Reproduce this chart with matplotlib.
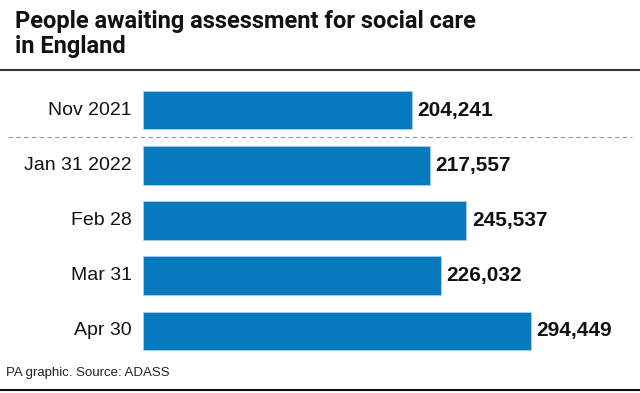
import matplotlib
matplotlib.use("Agg")
import matplotlib.pyplot as plt
from matplotlib.lines import Line2D

categories = ["Nov 2021", "Jan 31 2022", "Feb 28", "Mar 31", "Apr 30"]
values = [204241, 217557, 245537, 226032, 294449]
title = "People awaiting assessment for social care\nin England"
source = "PA graphic. Source: ADASS"

W, H = 640, 393
fig = plt.figure(figsize=(W / 100, H / 100), dpi=100)
fig.patch.set_facecolor("white")
plt.rcParams['font.family'] = ['Liberation Sans', 'DejaVu Sans']

bar_color = "#0779BE"

ax = fig.add_axes([143 / W, 1 - 358.6 / H, (W - 143) / W, (358.6 - 82.4) / H])
y = list(range(len(categories)))
ax.barh(y, values, height=0.7, color=bar_color, edgecolor="#9fd3f2", linewidth=0.6)
ax.set_xlim(0, (W - 143) / 0.001317)
ax.set_ylim(len(categories) - 0.5, -0.5)
ax.axis("off")

for yi, (c, v) in enumerate(zip(categories, values)):
    ax.annotate(c, xy=(0, yi), xytext=(-8, 0), textcoords="offset points",
                ha="right", va="center", fontsize=14, color="#111111")
    ax.annotate(f"{v:,}", xy=(v, yi), xytext=(4, 0), textcoords="offset points",
                ha="left", va="center", fontsize=15, fontweight="bold", color="#111111")

# title
fig.text(15 / W, 1 - 10 / H, title, ha="left", va="top", fontsize=17,
         fontweight="bold", color="#111111", linespacing=1.12,
         family=["Roboto", "Liberation Sans", "DejaVu Sans"])
# rule under title
fig.add_artist(Line2D([0, 1], [1 - 70 / H, 1 - 70 / H], color="#333333", linewidth=1.5))
# dashed separator
fig.add_artist(Line2D([8 / W, 632 / W], [1 - 137 / H, 1 - 137 / H], color="#999999",
                      linewidth=0.8, linestyle=(0, (4, 3))))
# source
fig.text(6 / W, 1 - 373 / H, source, ha="left", va="center", fontsize=9.5, color="#222222")
# bottom rule
fig.add_artist(Line2D([0, 1], [1 - 390 / H, 1 - 390 / H], color="#111111", linewidth=1.5))

fig.savefig("out.png", dpi=100, facecolor="white")
